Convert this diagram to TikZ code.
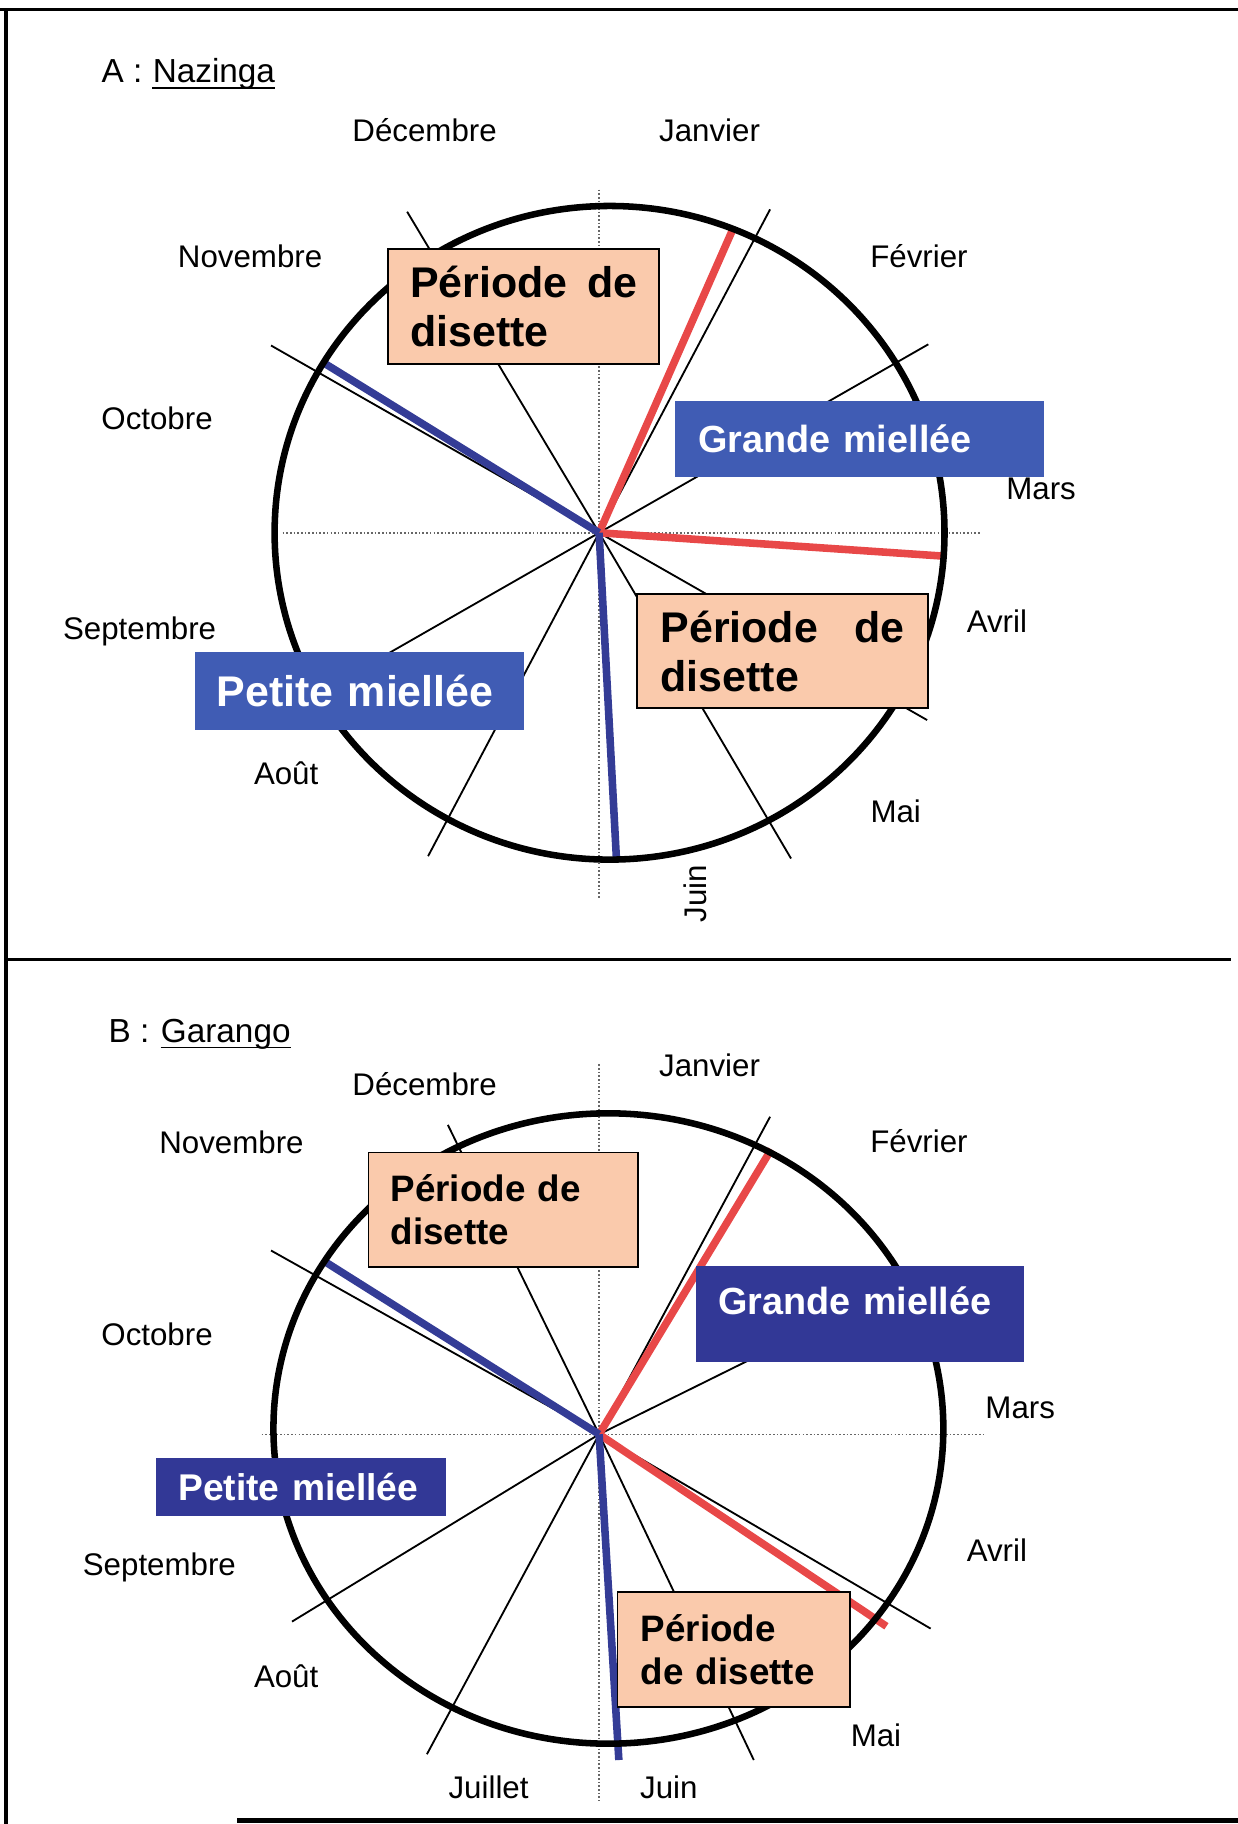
\documentclass[tikz,border=0pt]{standalone}
\usepackage{fontspec}
\setmainfont{Liberation Sans}

\definecolor{peche}{RGB}{250,202,172}
\definecolor{bleuA}{RGB}{64,92,180}
\definecolor{bleuB}{RGB}{50,56,150}
\definecolor{rouge}{RGB}{232,72,72}
\definecolor{marine}{RGB}{52,60,150}

\begin{document}
\begin{tikzpicture}[x=0.02cm, y=-0.02cm,
    mois/.style={font=\fontsize{15.3}{18}\selectfont, inner sep=0pt, anchor=base},
    titre/.style={font=\fontsize{16.3}{19}\selectfont, inner sep=0pt, anchor=base west},
    rayon/.style={line width=0.9pt},
    axe/.style={gray!80!black, densely dotted, line width=0.8pt},
    cercle/.style={line width=3.2pt},
    traitrouge/.style={rouge, line width=3.7pt},
    traitbleu/.style={marine, line width=3.7pt},
    disette/.style={draw=black, line width=0.9pt, fill=peche, anchor=north west, align=left, inner ysep=0pt},
    miellee/.style={fill=bleuA, text=white, anchor=north west, align=left, inner ysep=0pt}]
    \useasboundingbox (0,0) rectangle (1064,1568);

    % Cadre
    \draw[line width=1.6pt] (0,8) -- (1064,8);
    \draw[line width=2pt] (5,8) -- (5,1568);
    \draw[line width=1.6pt] (5,825) -- (1058,825);
    \draw[line width=2pt] (204,1565) -- (1064,1565);

    % ===== A : Nazinga =====
    \node[titre] (titreA) at (87,71) {A :};
    \node[titre] (lieuA) at (131,71) {Nazinga};
    \draw[line width=0.8pt] ([yshift=-2.5pt]lieuA.base west) -- ([yshift=-2.5pt]lieuA.base east);

    \coordinate (centreA) at (515,458);
    % Axes
    \draw[axe] (515,163) -- (515,772);
    \draw[axe] (243,458) -- (843,458);
    % Limites des mois
    \foreach \x/\y in {350/182,233/297,662/180,798/296,680/738,797/619,368/736,232/620}
        \draw[rayon] (centreA) -- (\x,\y);
    % Miellées et disettes
    \draw[traitrouge] (centreA) -- (630,197);
    \draw[traitrouge] (centreA) -- (810,478);
    \draw[traitbleu] (centreA) -- (280,313);
    \draw[traitbleu] (centreA) -- (530,740);
    % Cercle
    \draw[cercle] (524,458) ellipse [x radius=5.76cm, y radius=5.62cm];

    % Mois
    \node[mois] (decA) at (365,122) {Décembre};
    \node[mois] (janA) at (610,122) {Janvier};
    \node[mois] (fevA) at (790,230) {Février};
    \node[mois] (marA) at (895,429) {Mars};
    \node[mois] (avrA) at (857,544) {Avril};
    \node[mois] (maiA) at (770,707) {Mai};
    \node[mois, anchor=center, rotate=90] (juinA) at (598,768) {Juin};
    \node[mois] (aouA) at (246,674) {Août};
    \node[mois] (sepA) at (120,550) {Septembre};
    \node[mois] (octA) at (135,369) {Octobre};
    \node[mois] (novA) at (215,230) {Novembre};

    % Cadres
    \node[disette, minimum width=132.6pt, minimum height=56.3pt, text width=111pt, inner xsep=10.8pt,
          font=\bfseries\fontsize{21}{24}\selectfont] (disetteA1) at (333,213)
          {\makebox[111pt][l]{Période\hfill de}\\disette};
    \node[disette, minimum width=142.3pt, minimum height=55.8pt, text width=119.5pt, inner xsep=11.4pt,
          font=\bfseries\fontsize{21}{24}\selectfont] (disetteA2) at (547,510)
          {\makebox[119.5pt][l]{Période\hfill de}\\disette};
    \node[miellee, minimum width=180.4pt, minimum height=37.6pt, text width=157.6pt, inner xsep=11.4pt,
          font=\bfseries\fontsize{18.5}{21}\selectfont] (grandeA) at (580,344) {Grande miellée};
    \node[miellee, minimum width=161pt, minimum height=38.1pt, text width=139.4pt, inner xsep=10.8pt,
          font=\bfseries\fontsize{21}{24}\selectfont] (petiteA) at (167,560) {Petite miellée};

    % ===== B : Garango =====
    \node[titre] (titreB) at (93,896) {B :};
    \node[titre] (lieuB) at (138,896) {Garango};
    \draw[line width=0.8pt] ([yshift=-2.5pt]lieuB.base west) -- ([yshift=-2.5pt]lieuB.base east);

    \coordinate (centreB) at (515,1233);
    % Axes
    \draw[axe] (515,915) -- (515,1548);
    \draw[axe] (225,1233) -- (845,1233);
    % Limites des mois
    \foreach \x/\y in {385/967,233/1075,662/960,800/1092,800/1400,648/1513,367/1508,251/1394}
        \draw[rayon] (centreB) -- (\x,\y);
    % Miellées et disettes
    \draw[traitrouge] (centreB) -- (663,988);
    \draw[traitrouge] (centreB) -- (762,1398);
    \draw[traitbleu] (centreB) -- (280,1085);
    \draw[traitbleu] (centreB) -- (532,1513);
    % Cercle
    \draw[cercle] (523,1228) ellipse [x radius=5.76cm, y radius=5.42cm];

    % Mois
    \node[mois] (decB) at (365,942) {Décembre};
    \node[mois] (janB) at (610,925) {Janvier};
    \node[mois] (fevB) at (790,991) {Février};
    \node[mois] (marB) at (877,1219) {Mars};
    \node[mois] (avrB) at (857,1342) {Avril};
    \node[mois] (maiB) at (753,1501) {Mai};
    \node[mois] (juinB) at (575,1546) {Juin};
    \node[mois] (juilB) at (420,1546) {Juillet};
    \node[mois] (aouB) at (246,1451) {Août};
    \node[mois] (sepB) at (137,1354) {Septembre};
    \node[mois] (octB) at (135,1157) {Octobre};
    \node[mois] (novB) at (199,992) {Novembre};

    % Cadres
    \node[disette, minimum width=132pt, minimum height=55.8pt, text width=110.4pt, inner xsep=10.8pt,
          font=\bfseries\fontsize{18}{21}\selectfont] (disetteB1) at (316,990) {Période de\\disette};
    \node[disette, minimum width=113.8pt, minimum height=56.3pt, text width=91pt, inner xsep=11.4pt,
          font=\bfseries\fontsize{18}{21}\selectfont] (disetteB2) at (530,1368) {Période\\de disette};
    \node[miellee, fill=bleuB, minimum width=160.5pt, minimum height=46.7pt, text width=138.9pt, inner xsep=10.8pt,
          text depth=13pt, font=\bfseries\fontsize{18.5}{21}\selectfont] (grandeB) at (598,1088) {Grande miellée};
    \node[miellee, fill=bleuB, minimum width=141.7pt, minimum height=28.5pt, text width=120.1pt, inner xsep=10.8pt,
          font=\bfseries\fontsize{18.2}{21}\selectfont] (petiteB) at (134,1253) {Petite miellée};
\end{tikzpicture}
\end{document}
